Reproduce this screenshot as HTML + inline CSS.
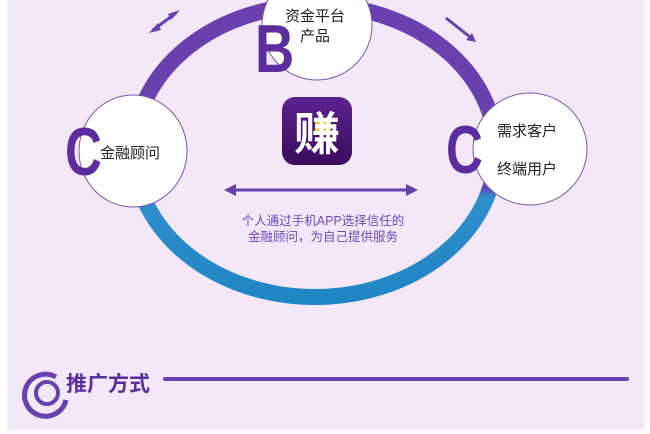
<!DOCTYPE html>
<html><head><meta charset="utf-8"><style>
html,body{margin:0;padding:0;width:650px;height:434px;overflow:hidden;background:#fff}
svg{display:block}
text{font-family:"Liberation Sans","Noto Sans CJK SC",sans-serif}
</style></head><body>
<svg width="650" height="434" viewBox="0 0 650 434" xmlns="http://www.w3.org/2000/svg">
<defs>
<linearGradient id="ring" x1="0" y1="0" x2="0" y2="1" gradientUnits="objectBoundingBox">
<stop offset="0" stop-color="#6a3fae"/><stop offset="0.62" stop-color="#6a3fae"/>
<stop offset="0.66" stop-color="#2f8fcb"/><stop offset="1" stop-color="#1f86c4"/>
</linearGradient>
<linearGradient id="icon" x1="0" y1="0" x2="0" y2="1">
<stop offset="0" stop-color="#5b2290"/><stop offset="1" stop-color="#3a0c5e"/>
</linearGradient>
</defs>
<rect x="7" y="0" width="637" height="430" fill="#f3e7f8"/>
<ellipse cx="315" cy="151" rx="181" ry="146" fill="none" stroke="url(#ring)" stroke-width="16"/>
<g stroke="#6a3fae" stroke-width="3" fill="#6a3fae">
<line x1="153" y1="30" x2="176" y2="13"/>
<polygon points="149,33 158,23 161,30" stroke="none"/>
<polygon points="180,10 171,20 168,14" stroke="none"/>
<line x1="446" y1="18" x2="470" y2="37"/>
<polygon points="476,42 466,40 472,33" stroke="none"/>
</g>
<ellipse cx="317" cy="25" rx="55" ry="55" fill="#fff" stroke="#7a5aa8" stroke-width="1"/>
<ellipse cx="133" cy="151" rx="54" ry="56" fill="#fff" stroke="#7a5aa8" stroke-width="1"/>
<ellipse cx="530" cy="149" rx="57" ry="56" fill="#fff" stroke="#7a5aa8" stroke-width="1"/>
<text transform="translate(255,72) scale(0.8,1)" font-size="68" font-weight="bold" fill="#5b2d9e">B</text>
<text transform="translate(65,175) scale(0.75,1)" font-size="68" font-weight="bold" fill="#5b2d9e">C</text>
<text transform="translate(446,173) scale(0.75,1)" font-size="68" font-weight="bold" fill="#5b2d9e">C</text>
<text x="285" y="21" font-size="15" fill="#222">资金平台</text>
<text x="300" y="41" font-size="15" fill="#222">产品</text>
<text x="100" y="158" font-size="15" fill="#222">金融顾问</text>
<text x="497" y="136" font-size="15" fill="#222">需求客户</text>
<text x="497" y="174" font-size="15" fill="#222">终端用户</text>
<rect x="282" y="97" width="70" height="68" rx="13" fill="url(#icon)"/>
<rect x="315" y="122" width="16" height="10" fill="#f2c31a"/>
<text x="317" y="150" font-size="46" font-weight="bold" fill="#fff" text-anchor="middle">赚</text>
<line x1="232" y1="190" x2="410" y2="190" stroke="#6a3fae" stroke-width="3"/>
<polygon points="224,190 236,184 236,196" fill="#6a3fae"/>
<polygon points="418,190 406,184 406,196" fill="#6a3fae"/>
<text x="323" y="225" font-size="12.5" fill="#7448c0" text-anchor="middle">个人通过手机APP选择信任的</text>
<text x="323" y="241" font-size="12.5" fill="#7448c0" text-anchor="middle">金融顾问，为自己提供服务</text>
<path d="M56,377 A21,21 0 1 0 66,400" fill="none" stroke="#6a3fae" stroke-width="5"/>
<circle cx="47" cy="393" r="11" fill="none" stroke="#6a3fae" stroke-width="4"/>
<text x="66" y="391" font-size="21" font-weight="bold" fill="#5b2d9e">推广方式</text>
<line x1="165" y1="379" x2="627" y2="379" stroke="#6a3fae" stroke-width="4" stroke-linecap="round"/>
</svg>
</body></html>
